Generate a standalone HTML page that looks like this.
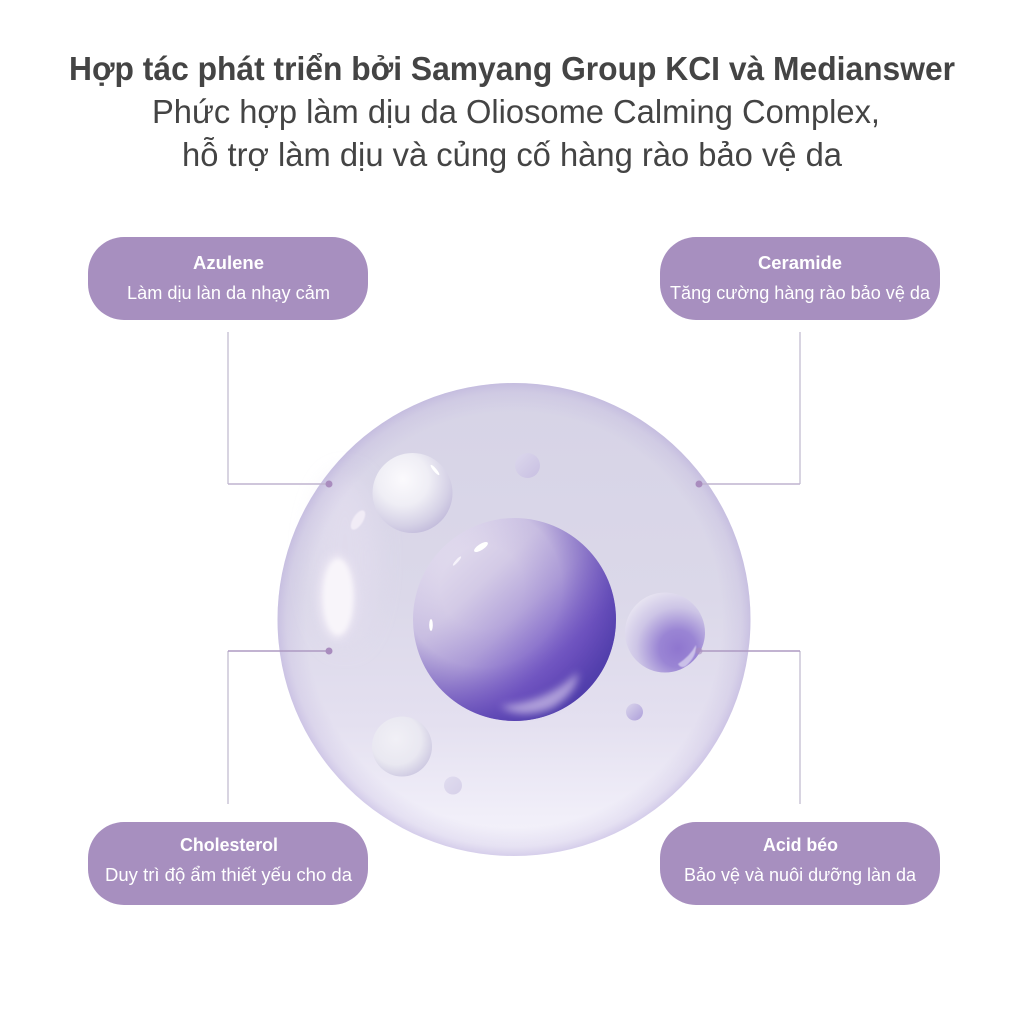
<!DOCTYPE html>
<html><head><meta charset="utf-8"><style>
html,body{margin:0;padding:0;background:#fff}
svg{display:block}
text{font-family:"Liberation Sans","Noto Sans CJK SC",sans-serif}
</style></head><body>
<svg xmlns="http://www.w3.org/2000/svg" width="1024" height="1024" viewBox="0 0 1024 1024">
<defs>
<linearGradient id="outer" x1="0" y1="0" x2="0" y2="1">
<stop offset="0" stop-color="#d6d3e6"/><stop offset=".45" stop-color="#dbd8e9"/><stop offset=".72" stop-color="#e4e0f0"/><stop offset=".92" stop-color="#f1eff9"/><stop offset="1" stop-color="#f3f1fa"/>
</linearGradient>
<radialGradient id="rim" cx=".5" cy=".5" r=".5">
<stop offset=".88" stop-color="#b5a7d8" stop-opacity="0"/><stop offset=".96" stop-color="#b5a7d8" stop-opacity=".2"/><stop offset="1" stop-color="#ad9ed6" stop-opacity=".42"/>
</radialGradient>
<linearGradient id="core" x1=".12" y1=".1" x2=".88" y2=".9">
<stop offset="0" stop-color="#e6e1f0"/><stop offset=".28" stop-color="#d3cae6"/><stop offset=".5" stop-color="#b3a3da"/><stop offset=".75" stop-color="#7f64ca"/><stop offset="1" stop-color="#6349b8"/>
</linearGradient>
<radialGradient id="coreRim" cx=".34" cy=".34" r=".82">
<stop offset=".25" stop-color="#5a3fb2" stop-opacity="0"/><stop offset=".48" stop-color="#5a3fb2" stop-opacity=".1"/><stop offset=".68" stop-color="#5a3fb2" stop-opacity=".5"/><stop offset=".86" stop-color="#4c3ba8" stop-opacity=".82"/><stop offset="1" stop-color="#4c3ba8" stop-opacity=".95"/>
</radialGradient>
<radialGradient id="white" cx=".38" cy=".33" r=".72">
<stop offset="0" stop-color="#fbfafd"/><stop offset=".45" stop-color="#efeef5"/><stop offset=".8" stop-color="#d5d1e6"/><stop offset="1" stop-color="#c2bbdb"/>
</radialGradient>
<radialGradient id="white2" cx=".4" cy=".38" r=".7">
<stop offset="0" stop-color="#f1f0f6"/><stop offset=".6" stop-color="#e9e8f1"/><stop offset="1" stop-color="#c9c4df"/>
</radialGradient>
<radialGradient id="pb" cx=".66" cy=".7" r=".78">
<stop offset="0" stop-color="#8f76cf"/><stop offset=".3" stop-color="#9a85d4"/><stop offset=".66" stop-color="#cdc5e6"/><stop offset="1" stop-color="#e9e6f2"/>
</radialGradient>
<linearGradient id="s1" x1="0" y1="0" x2="1" y2="1"><stop offset="0" stop-color="#dcd8ec"/><stop offset="1" stop-color="#c8bfe2"/></linearGradient>
<linearGradient id="s2" x1="0" y1="0" x2="1" y2="1"><stop offset="0" stop-color="#dad5ec"/><stop offset="1" stop-color="#ad9fda"/></linearGradient>
<linearGradient id="s3" x1="0" y1="0" x2="1" y2="1"><stop offset="0" stop-color="#e0dcef"/><stop offset="1" stop-color="#d6d0e9"/></linearGradient>
<filter id="b2" x="-50%" y="-50%" width="200%" height="200%"><feGaussianBlur stdDeviation="2"/></filter>
<filter id="b3" x="-50%" y="-50%" width="200%" height="200%"><feGaussianBlur stdDeviation="4"/></filter>
<filter id="b8" x="-100%" y="-100%" width="300%" height="300%"><feGaussianBlur stdDeviation="12"/></filter>
<filter id="b1" x="-50%" y="-50%" width="200%" height="200%"><feGaussianBlur stdDeviation=".6"/></filter>
</defs>

<rect width="1024" height="1024" fill="#fff"/>

<g fill="#444444">
<text x="69" y="80" font-size="33" font-weight="700" textLength="886" lengthAdjust="spacingAndGlyphs">Hợp tác phát triển bởi Samyang Group KCI và Medianswer</text>
<text x="152" y="123" font-size="33" textLength="728" lengthAdjust="spacingAndGlyphs">Phức hợp làm dịu da Oliosome Calming Complex,</text>
<text x="182" y="166" font-size="33" textLength="660" lengthAdjust="spacingAndGlyphs">hỗ trợ làm dịu và củng cố hàng rào bảo vệ da</text>
</g>

<!-- main sphere -->
<circle cx="514" cy="619.5" r="236.5" fill="url(#outer)"/>
<ellipse cx="345" cy="560" rx="32" ry="85" fill="#e3deef" opacity=".7" filter="url(#b8)"/>
<circle cx="514" cy="619.5" r="236.5" fill="url(#rim)"/>
<ellipse cx="337" cy="597" rx="19" ry="43" fill="#efeaf5" opacity=".8" filter="url(#b3)"/>
<ellipse cx="338" cy="597" rx="15" ry="38" fill="#f8f5fa" filter="url(#b2)"/>
<ellipse cx="358" cy="520" rx="5" ry="11" transform="rotate(32 358 520)" fill="#f1ecf6" filter="url(#b1)"/>

<!-- connectors -->
<g fill="none" stroke-width="1.4">
<path d="M228 332V484M800 332V484M228 804V651M800 804V651" stroke="#c8c2d4"/>
<path d="M228 484H329M800 484H699" stroke="#bfb4cf"/>
<path d="M228 651H329M800 651H699" stroke="#ad9ac2"/>
</g>

<!-- core -->
<circle cx="514.5" cy="619.5" r="101.5" fill="url(#core)"/>
<circle cx="514.5" cy="619.5" r="101.5" fill="url(#coreRim)"/>
<path d="M500 706Q548 702 578 672Q578 692 552 708Q522 720 500 706Z" fill="#c4b6e4" opacity=".8" filter="url(#b3)"/>
<ellipse cx="481" cy="547" rx="8" ry="3" transform="rotate(-33 481 547)" fill="#fff"/>
<ellipse cx="457" cy="561" rx="6" ry="1.4" transform="rotate(-48 457 561)" fill="#f6f3fb"/>
<ellipse cx="431" cy="625" rx="1.8" ry="6" fill="#fff"/>

<!-- bubbles -->
<circle cx="412.5" cy="493" r="40" fill="url(#white)"/>
<ellipse cx="435" cy="470" rx="6.5" ry="1.6" transform="rotate(50 435 470)" fill="#fff"/>
<circle cx="665" cy="632.5" r="40" fill="url(#pb)"/>
<path d="M678 664Q690 656 696 645Q697 656 686 666Q681 669 678 664Z" fill="#e0daf2" opacity=".7" filter="url(#b1)"/>
<circle cx="402" cy="746.5" r="30" fill="url(#white2)"/>
<circle cx="527.5" cy="465.5" r="12.5" fill="url(#s1)"/>
<circle cx="634.5" cy="712" r="8.5" fill="url(#s2)"/>
<circle cx="453" cy="785.5" r="9" fill="url(#s3)"/>

<!-- dots -->
<g fill="#a98cbe">
<circle cx="329" cy="484" r="3.5"/><circle cx="699" cy="484" r="3.5"/><circle cx="329" cy="651" r="3.5"/><circle cx="699" cy="651" r="3.5" opacity=".6"/>
</g>

<!-- pills -->
<g fill="#a78fbf">
<rect x="88" y="237" width="280" height="83" rx="36"/>
<rect x="660" y="237" width="280" height="83" rx="36"/>
<rect x="88" y="822" width="280" height="83" rx="36"/>
<rect x="660" y="822" width="280" height="83" rx="36"/>
</g>
<g fill="#fff">
<text x="193" y="269" font-size="18" font-weight="700" textLength="71" lengthAdjust="spacingAndGlyphs">Azulene</text>
<text x="127" y="299" font-size="18" textLength="203" lengthAdjust="spacingAndGlyphs">Làm dịu làn da nhạy cảm</text>
<text x="758" y="269" font-size="18" font-weight="700" textLength="84" lengthAdjust="spacingAndGlyphs">Ceramide</text>
<text x="670" y="299" font-size="18" textLength="260" lengthAdjust="spacingAndGlyphs">Tăng cường hàng rào bảo vệ da</text>
<text x="180" y="851" font-size="18" font-weight="700" textLength="98" lengthAdjust="spacingAndGlyphs">Cholesterol</text>
<text x="105" y="881" font-size="18" textLength="247" lengthAdjust="spacingAndGlyphs">Duy trì độ ẩm thiết yếu cho da</text>
<text x="763" y="851" font-size="18" font-weight="700" textLength="75" lengthAdjust="spacingAndGlyphs">Acid béo</text>
<text x="684" y="881" font-size="18" textLength="232" lengthAdjust="spacingAndGlyphs">Bảo vệ và nuôi dưỡng làn da</text>
</g>
</svg>
</body></html>
